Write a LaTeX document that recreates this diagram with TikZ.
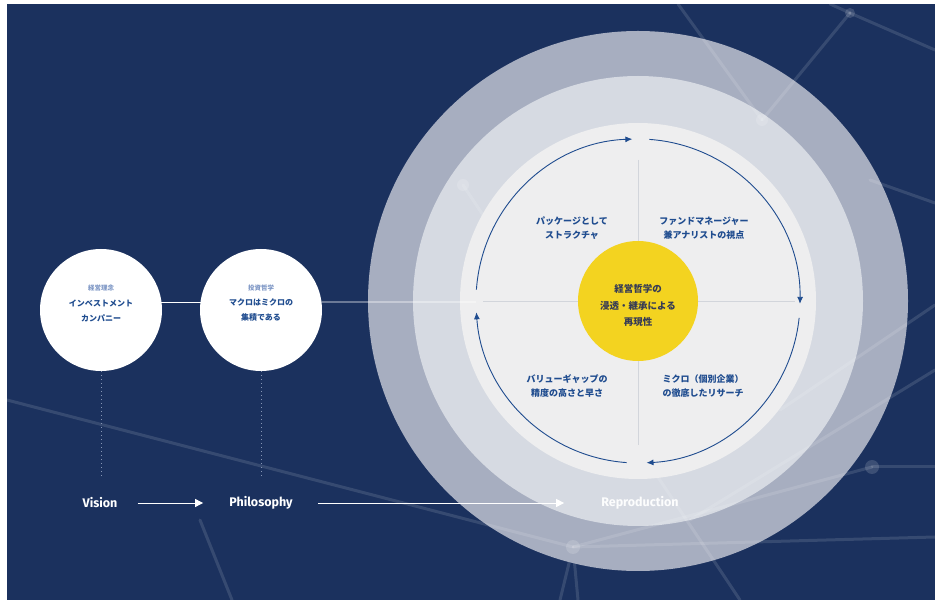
\documentclass[tikz,border=0pt]{standalone}
\usepackage{fontspec}
\newfontfamily\jp{Noto Sans CJK JP}
\newfontfamily\lat{Fira Sans}
\usetikzlibrary{arrows.meta,calc}

\definecolor{navy}{HTML}{1B315E}
\definecolor{ringA}{HTML}{A7AEC0}
\definecolor{ringB}{HTML}{D6DAE2}
\definecolor{ringC}{HTML}{EEEEEF}
\definecolor{sun}{HTML}{F3D320}
\definecolor{ink}{HTML}{1F4C8F}
\definecolor{inklight}{HTML}{7F98C6}
\definecolor{core}{HTML}{363B55}
\definecolor{rule}{HTML}{D2D5DB}
\definecolor{dotcol}{HTML}{8796B5}

\begin{document}
\begin{tikzpicture}[x=1pt,y=1pt,
  disc/.style={circle, inner sep=0pt, outer sep=0pt, draw=none},
  net/.style={white, opacity=0.12, line width=3pt, line cap=round},
  knot/.style={fill=white, opacity=0.15},
  divider/.style={draw=rule, line width=0.8pt},
  cyc/.style={draw=ink, line width=0.9pt, -{Latex[length=7pt,width=6pt]}},
  quad/.style={font=\jp\bfseries\fontsize{9}{14}\selectfont, text=ink, align=center, inner sep=0pt},
  coretext/.style={font=\jp\bfseries\fontsize{9.5}{16.5}\selectfont, text=core, align=center, inner sep=0pt},
  badge/.style={disc, fill=white, minimum size=122pt},
  badgehead/.style={font=\jp\bfseries\fontsize{6.5}{8}\selectfont, text=inklight, inner sep=0pt},
  badgetext/.style={font=\jp\bfseries\fontsize{8}{15}\selectfont, text=ink, align=center, inner sep=0pt},
  link/.style={draw=white, line width=0.9pt},
  dotline/.style={draw=dotcol, line width=1pt, dash pattern=on 1pt off 3pt},
  tag/.style={font=\lat\bfseries\fontsize{12.5}{14}\selectfont, text=white, inner sep=0pt},
  flow/.style={draw=white, line width=0.8pt, -{Triangle[length=8pt,width=8pt]}}
]
\useasboundingbox (0,0) rectangle (935,600);
\fill[white] (0,0) rectangle (935,600);
\fill[navy] (7,0) rectangle (935,596);

% background network, lower layer
\coordinate (n1) at (850,587);
\coordinate (n2) at (762,480);
\coordinate (n3) at (463,415);
\coordinate (n4) at (573,53);
\coordinate (n5) at (872,133);
\draw[net] (n4) -- (560,0);
\draw[net] (n4) -- (578,0);
\draw[net] (200,80) -- (232,0);
\draw[net] (n5) -- (935,133);

% concentric rings
\coordinate (C) at (638,299);
\node[disc, fill=ringA, minimum size=540pt] (ringout) at (C) {};
\node[disc, fill=ringB, minimum size=450pt] (ringmid) at (C) {};

% network strands crossing the rings
\draw[net] (7,200) -- (n4);
\draw[net] (n4) -- (935,63);
\draw[net] (678,596) -- (n2);
\draw[net] (n1) -- (n2);
\draw[net] (n1) -- (830,596);
\draw[net] (n1) -- (935,550);
\draw[net] (n3) -- (740,0);
\draw[net] (n4) -- (n5);
\draw[net] (690,80) -- (935,230);
\draw[net] (780,190) -- (935,295);
\draw[net] (870,420) -- (935,397);
\fill[knot] (n2) circle (6);
\fill[knot] (n3) circle (6);
\fill[knot] (n4) circle (7);
\fill[knot] (n5) circle (7);
\fill[knot] (n1) circle (5);

\node[disc, fill=ringC, minimum size=356pt] (ringin) at (C) {};

% quadrant dividers
\draw[divider] (638,440) -- (638,155);
\draw[divider] (483,299) -- (795,299);

% core
\node[disc, fill=sun, minimum size=120pt] (hubcore) at (C) {};
\node[coretext] (coretxt) at (638,294.5) {経営哲学の\\浸透・継承による\\再現性};

% cycle arcs
\draw[cyc] ($(C)+(176:162)$) arc[start angle=176,end angle=92,radius=162];
\draw[cyc] ($(C)+(86:162)$) arc[start angle=86,end angle=-1,radius=162];
\draw[cyc] ($(C)+(-6:162)$) arc[start angle=-6,end angle=-87,radius=162];
\draw[cyc] ($(C)+(-94:162)$) arc[start angle=-94,end angle=-176,radius=162];

% quadrant texts
\node[quad] (qa) at (572,372) {パッケージとして\\ストラクチャ};
\node[quad] (qb) at (704,372) {ファンドマネージャー\\兼アナリストの視点};
\node[quad] (qc) at (567,214) {バリューギャップの\\精度の高さと早さ};
\node[quad] (qd) at (703,214) {ミクロ（個別企業）\\の徹底したリサーチ};

% left badges
\node[badge] (c1) at (101,290) {};
\node[badge] (c2) at (261,290) {};
\node[badgehead] (c1h) at (101,312) {経営理念};
\node[badgetext] (c1t) at (101,289.5) {インベストメント\\カンパニー};
\node[badgehead] (c2h) at (261,312) {投資哲学};
\node[badgetext] (c2t) at (261,289.5) {マクロはミクロの\\集積である};

\coordinate (entry) at (476,298);
\draw[link] ($(c1)+(7.5:61)$) -- ($(c2)+(172.5:61)$);
\draw[link] ($(c2)+(7.5:61)$) -- (entry);

% dotted drops
\coordinate (d1) at (101,122);
\coordinate (d2) at (261,122);
\draw[dotline] (c1.south) -- (d1);
\draw[dotline] (c2.south) -- (d2);

% bottom flow
\node[tag] (vis) at (100,97) {Vision};
\node[tag] (phi) at (261,97) {Philosophy};
\node[tag, text opacity=0.95] (rep) at (640,97) {Reproduction};
\draw[flow, shorten <=20pt, shorten >=26pt] (vis) -- (phi);
\draw[flow, shorten <=25pt, shorten >=37pt] (phi) -- (rep);
\end{tikzpicture}
\end{document}
